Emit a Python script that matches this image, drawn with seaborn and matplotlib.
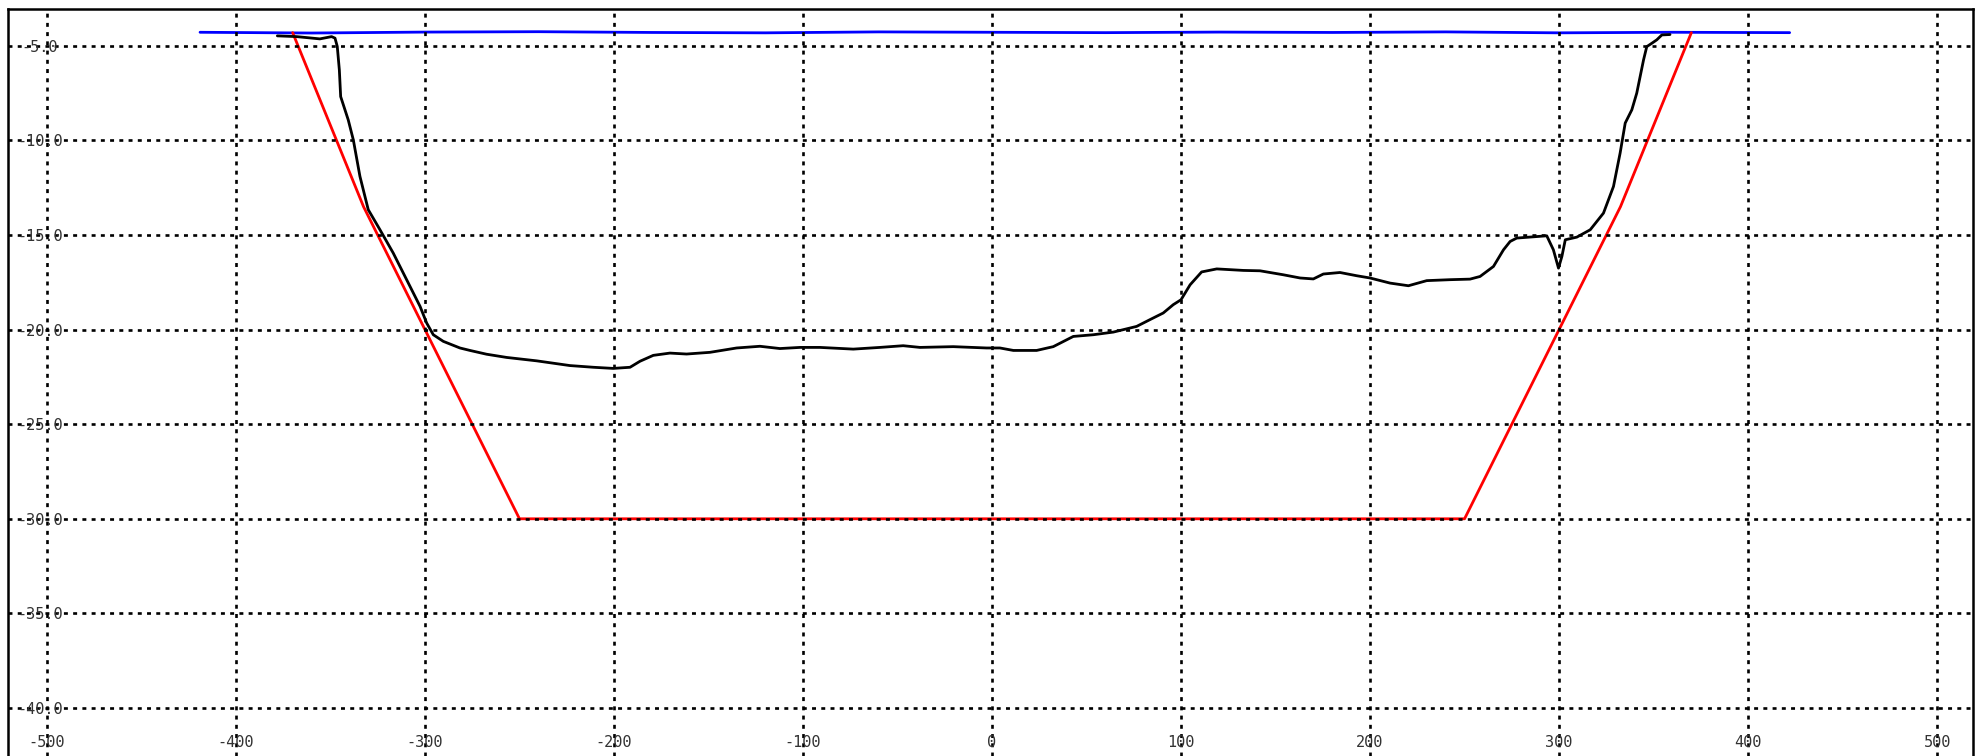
import matplotlib
matplotlib.use('Agg')
import matplotlib.pyplot as plt
import seaborn as sns
import pandas as pd
import numpy as np

sns.set_theme(style="white")
plt.rcParams['font.family'] = ['DejaVu Sans Mono', 'DejaVu Sans']
plt.rcParams['axes.unicode_minus'] = False

# 水面线 (blue)
water_x = [-419, -360, -300, -240, -180, -120, -60, 0, 60, 120, 180, 240, 300, 360, 422]
water_y = [-4.28, -4.32, -4.27, -4.25, -4.29, -4.31, -4.26, -4.28, -4.30, -4.27, -4.29, -4.26, -4.31, -4.28, -4.30]

# 设计断面 (red)
design_x = [-370, -332.5, -250, 250, 332.5, 370]
design_y = [-4.3, -13.5, -30.0, -30.0, -13.5, -4.3]

# 实测断面 (black)
bed_x = [-378.1, -367.9, -355.6, -349.4, -347.6, -346.4, -345.3, -344.6, -340.6, -337.9,
         -334.4, -330.0, -323.8, -316.8, -309.7, -302.6, -299.1, -295.6, -290.3, -281.5,
         -276.2, -267.4, -256.8, -240.9, -223.3, -210.9, -200.4, -191.5, -186.2, -179.2,
         -170.4, -161.6, -149.2, -135.1, -122.8, -112.2, -101.6, -91.0, -73.4, -59.3,
         -47.0, -38.1, -20.5, -2.9, 4.2, 11.3, 23.6, 32.4, 43.0, 53.6,
         64.2, 76.5, 83.6, 90.6, 95.9, 100.0, 104.8, 110.9, 118.9, 133.0,
         141.8, 154.1, 163.0, 170.0, 175.3, 184.1, 192.9, 200.0, 210.6, 220.3,
         230.0, 242.3, 252.9, 258.2, 265.3, 270.6, 274.1, 277.6, 293.5, 297.0,
         299.7, 301.5, 303.3, 309.4, 316.5, 323.5, 328.8, 332.3, 335.0, 338.5,
         341.1, 344.7, 346.4, 349.1, 351.7, 354.4, 358.7]
bed_y = [-4.47, -4.51, -4.63, -4.51, -4.59, -5.03, -6.27, -7.68, -8.91, -9.97,
         -11.90, -13.66, -14.72, -15.95, -17.36, -18.77, -19.65, -20.27, -20.62, -20.97,
         -21.10, -21.30, -21.47, -21.65, -21.90, -21.99, -22.05, -21.99, -21.67, -21.36,
         -21.24, -21.29, -21.20, -20.97, -20.88, -21.00, -20.94, -20.94, -21.03, -20.94,
         -20.85, -20.94, -20.90, -20.97, -20.97, -21.10, -21.10, -20.90, -20.36, -20.27,
         -20.13, -19.83, -19.47, -19.12, -18.68, -18.42, -17.63, -16.95, -16.79, -16.87,
         -16.89, -17.10, -17.27, -17.32, -17.06, -16.98, -17.15, -17.27, -17.54, -17.68,
         -17.41, -17.36, -17.33, -17.19, -16.66, -15.78, -15.34, -15.16, -15.04, -15.78,
         -16.75, -16.13, -15.25, -15.11, -14.72, -13.84, -12.43, -10.67, -9.08, -8.38,
         -7.50, -5.74, -5.04, -4.86, -4.68, -4.42, -4.40]

x_ticks = list(range(-500, 501, 100))
y_ticks = [-40, -35, -30, -25, -20, -15, -10, -5]

fig = plt.figure(figsize=(19.81, 7.56), dpi=100)
ax = fig.add_axes([8 / 1981, 0.0, 1965 / 1981, 1 - 9 / 756])

sns.lineplot(x=water_x, y=water_y, color='#0000ff', lw=2.0, ax=ax, sort=False, estimator=None)
sns.lineplot(x=design_x, y=design_y, color='#ff0000', lw=2.0, ax=ax, sort=False, estimator=None)
sns.lineplot(x=bed_x, y=bed_y, color='black', lw=2.0, ax=ax, sort=False, estimator=None)

ax.set_xlim(-520.6, 519.0)
ax.set_ylim(-42.54, -3.05)
ax.set_xticks(x_ticks)
ax.set_xticklabels([str(v) for v in x_ticks])
ax.set_yticks(y_ticks)
ax.set_yticklabels([f'{v:.1f}' for v in y_ticks])

# 网格: 黑色点线
ax.grid(True, color='black', linestyle=(0, (1.5, 2.0)), linewidth=1.9)
ax.set_axisbelow(False)

ax.tick_params(axis='x', length=0, pad=-15, labelsize=11, labelcolor='#333333')
ax.tick_params(axis='y', length=0, pad=-23, labelsize=11, labelcolor='#333333')
for lab in ax.get_yticklabels():
    lab.set_horizontalalignment('center')

for side in ['top', 'left', 'right']:
    ax.spines[side].set_color('black')
    ax.spines[side].set_linewidth(1.8)
ax.spines['bottom'].set_visible(False)

ax.set_xlabel('')
ax.set_ylabel('')

fig.savefig('out.png', dpi=100)
